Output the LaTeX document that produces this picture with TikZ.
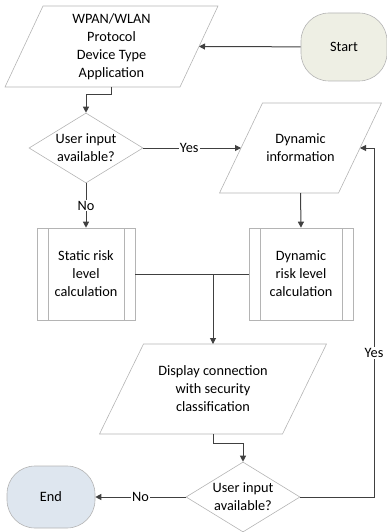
\documentclass[tikz,border=0pt]{standalone}
\usepackage{fontspec}
\setmainfont{Carlito}
\usetikzlibrary{shapes.geometric,arrows.meta,calc}
\definecolor{edge}{HTML}{B4B4B4}
\definecolor{wire}{HTML}{404040}
\definecolor{startfill}{HTML}{EEEFE4}
\definecolor{endfill}{HTML}{DEE6EF}
\tikzset{
  base/.style={draw=edge, line width=0.6pt, align=center, font=\fontsize{14.3}{18}\selectfont, inner sep=0pt},
  txt/.style={align=center, font=\fontsize{14.3}{18}\selectfont, inner sep=0pt},
  outline/.style={draw=edge, line width=0.6pt},
  dec/.style={base, diamond, aspect=1.63, minimum width=114pt, minimum height=70pt},
  term/.style={base, rectangle, rounded corners=28pt},
  proc/.style={base, rectangle, minimum width=98pt, minimum height=92pt,
    path picture={\draw[edge, line width=0.6pt]
      ([xshift=11pt]path picture bounding box.north west) -- ([xshift=11pt]path picture bounding box.south west)
      ([xshift=-11pt]path picture bounding box.north east) -- ([xshift=-11pt]path picture bounding box.south east);}},
  arr/.style={draw=wire, line width=1pt, -{Triangle[length=6pt,width=6pt]}},
  wireline/.style={draw=wire, line width=1pt},
  lbl/.style={fill=white, inner sep=1pt, font=\fontsize{14.3}{18}\selectfont}
}
% #1 name, #2 cx, #3 cy, #4 half body width, #5 half height, #6 slant, #7 text
\newcommand\paranode[7]{%
  \node[txt] (#1) at (#2,#3) {#7};
  \draw[outline] ({#2-#4+#6/2},{#3-#5}) -- ({#2+#4+#6/2},{#3-#5})
    -- ({#2+#4-#6/2},{#3+#5}) -- ({#2-#4-#6/2},{#3+#5}) -- cycle;
  \coordinate (#1-e) at ({#2+#4},#3);
  \coordinate (#1-w) at ({#2-#4},#3);
  \coordinate (#1-n) at (#2,{#3-#5});
  \coordinate (#1-s) at (#2,{#3+#5});
}
\begin{document}
\begin{tikzpicture}[x=1pt,y=-1pt]
\useasboundingbox (0,0) rectangle (387,532);
% nodes
\node[term, fill=startfill, minimum width=86pt, minimum height=68pt] (start) at (344,47) {Start};
\paranode{wpan}{111.5}{46.5}{87.5}{40.5}{38}{WPAN/WLAN\\Protocol\\Device Type\\Application}
\node[dec] (d1) at (86,148) {User input\\available?};
\paranode{dinfo}{300.5}{148}{59.5}{45}{43}{Dynamic\\information}
\node[proc] (static) at (86,274) {Static risk\\level\\calculation};
\node[proc, minimum width=104pt] (dyn) at (301,274) {Dynamic\\risk level\\calculation};
\paranode{disp}{213}{389}{91.5}{45}{44}{Display connection\\with security\\classification}
\node[dec] (d2) at (243,497) {User input\\available?};
\node[term, fill=endfill, minimum width=88pt, minimum height=62pt] (end) at (51,497) {End};
\coordinate (join) at (213,274);
\coordinate (loop) at (374,148);
% connectors
\draw[arr] (start) -- (wpan-e);
\draw[arr] (wpan-s) -- ++(0,8) -| (d1.north);
\draw[arr] (d1) -- node[lbl, pos=0.47] {Yes} (dinfo-w);
\draw[arr] (d1.south) -- node[lbl] {No} (static.north);
\draw[arr] (dinfo-s) -- (dyn.north);
\draw[wireline] (static.east) -- (dyn.west);
\draw[arr] (join) -- (disp-n);
\draw[arr] (disp-s) -- ++(0,9) -| (d2.north);
\draw[arr] (d2.east) -| (loop) -- (dinfo-e);
\node[lbl] (yes2) at (374,353) {Yes};
\draw[arr] (d2) -- node[lbl] {No} (end);
\end{tikzpicture}
\end{document}
